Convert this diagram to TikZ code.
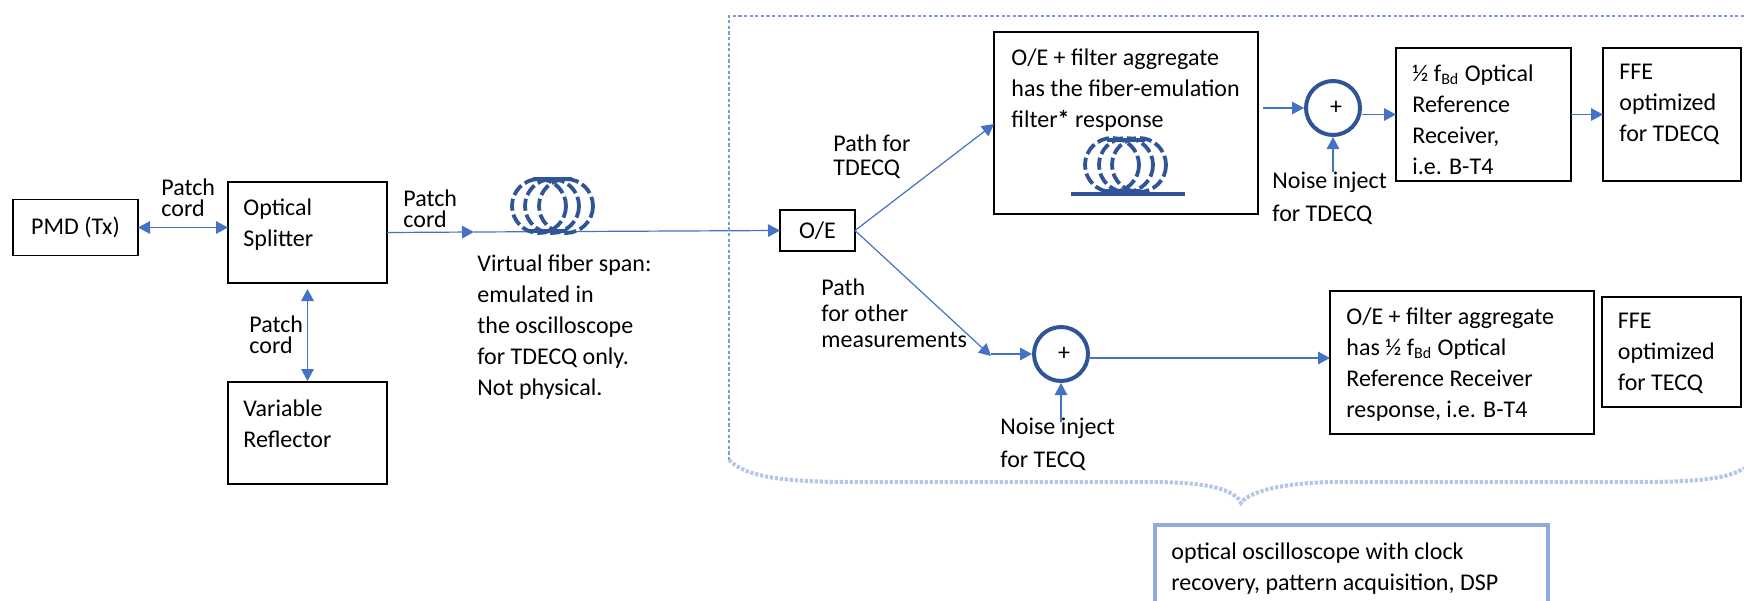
\documentclass[tikz,border=0pt]{standalone}
\usepackage{fontspec}
\setmainfont{Carlito}
\usetikzlibrary{arrows.meta}
\definecolor{linkblue}{HTML}{4472C4}
\definecolor{coilblue}{HTML}{2F5597}
\definecolor{paleblue}{HTML}{B4C7E7}
\definecolor{scopeblue}{HTML}{8FAADC}
\tikzset{
    box/.style={draw, line width=.75pt, inner sep=0pt, outer sep=0pt},
    txtbase/.style={anchor=north west, align=left, inner sep=0pt, execute at begin node=\strut},
    boxtxt/.style={txtbase, yshift=-3.5pt, font=\fontsize{12}{15.5}\selectfont},
    tight/.style={txtbase, font=\fontsize{12}{10.5}\selectfont},
    link/.style={-{Triangle[length=6pt,width=6.3pt]}, linkblue, line width=.6pt},
    biglink/.style={{Triangle[length=6pt,width=6.3pt]}-{Triangle[length=6pt,width=6.3pt]}, linkblue, line width=.6pt},
    sum/.style={circle, draw=coilblue, line width=2pt, minimum size=27pt, inner sep=0pt, font=\fontsize{12}{13}\selectfont},
    coil/.style={coilblue, line width=1.9pt, dash pattern=on 6pt off 2pt}
}
\begin{document}
\begin{tikzpicture}[x=.5pt, y=-.5pt]
    \clip (0,0) rectangle (1744,600);
    % left part
    \node[box, minimum width=62.5pt, minimum height=28pt, font=\fontsize{12}{13}\selectfont] (pmd) at (75.5,227.5) {PMD (Tx)};
    \node[box, minimum width=79.5pt, minimum height=50.5pt] (split) at (307.5,232.5) {};
    \node[box, minimum width=79.5pt, minimum height=51pt] (refl) at (307.5,433) {};
    \node[boxtxt] (splittxt) at (243,191) {Optical\\Splitter};
    \node[boxtxt] (refltxt) at (243,392) {Variable\\Reflector};
    \node[tight] (patcha) at (161,178) {Patch\\cord};
    \node[tight] (patchb) at (403,189) {Patch\\cord};
    \node[tight] (patchc) at (249,315) {Patch\\cord};
    \node[boxtxt] (virt) at (477,247) {Virtual fiber span:\\emulated in\\the oscilloscope\\for TDECQ only.\\Not physical.};
    \coordinate (fibstart) at (474,232);
    \node[box, minimum width=37.5pt, minimum height=20.5pt, font=\fontsize{12}{13}\selectfont] (oe) at (817.5,230.5) {O/E};
    \draw[biglink] (pmd.east) -- (pmd.east -| split.west);
    \draw[biglink] ([yshift=-3pt]split.south) -- ([yshift=.5pt]refl.north);
    \draw[link] (split.east) -- (fibstart);
    \draw[link] (fibstart) -- (oe.west);
    \foreach \cx in {539,552,566} {
        \draw[coil] (\cx,206) circle (27);
    }
    \draw[coilblue, line width=1.9pt] (533,179) -- (572,179);
    \draw[coilblue, line width=1.9pt] (528,231) -- (567,231);
    % upper path
    \node[box, minimum width=132pt, minimum height=91pt] (filt) at (1126,123) {};
    \node[boxtxt] (filttxt) at (1011,41) {O/E + filter aggregate\\has the fiber-emulation\\filter\textbf{*} response};
    \foreach \cx in {1112,1126,1139} {
        \draw[coil] (\cx,165) circle (27);
    }
    \draw[coilblue, line width=1.9pt] (1107,140) -- (1145,140);
    \draw[coilblue, line width=1.9pt] (1102,191) -- (1140,191);
    \draw[coilblue, line width=2pt] (1071,194) -- (1185,194);
    \node[sum] (suma) at (1333,108) {\raisebox{-2pt}{\hspace{3pt}+}};
    \node[box, minimum width=87.5pt, minimum height=66.5pt] (rxa) at (1483.5,114.5) {};
    \node[boxtxt] (rxatxt) at (1412,57) {½ f\textsubscript{Bd} Optical\\Reference\\Receiver,\\i.e. B-T4};
    \node[box, minimum width=69pt, minimum height=66.5pt] (ffea) at (1672,114.5) {};
    \node[boxtxt] (ffeatxt) at (1619,57) {FFE\\optimized\\for TDECQ};
    \node[boxtxt] (noisea) at (1272,165) {Noise inject\\[1pt]for TDECQ};
    \node[tight] (patha) at (833,134) {Path for\\[1.5pt]TDECQ};
    \coordinate (filtin) at (1263,108);
    \coordinate (noiseaend) at (1333,172);
    \draw[link] (oe.east) -- (filt.west |- 0,124);
    \draw[link] (filtin) -- (suma.west);
    \draw[link] (suma.east |- rxa.west) -- (rxa.west);
    \draw[link] (noiseaend) -- (suma.south);
    \draw[link] (rxa.east) -- (ffea.west);
    % lower path
    \node[sum] (sumb) at (1061,354) {\raisebox{-2pt}{\hspace{3pt}+}};
    \node[box, minimum width=132pt, minimum height=71.5pt] (rxb) at (1462,362.5) {};
    \node[boxtxt] (rxbtxt) at (1346,300) {O/E + filter aggregate\\has ½ f\textsubscript{Bd} Optical\\Reference Receiver\\response, i.e. B-T4};
    \node[box, minimum width=69.5pt, minimum height=55pt] (ffeb) at (1671.5,352) {};
    \node[boxtxt] (ffebtxt) at (1617.5,306) {FFE\\optimized\\for TECQ};
    \node[boxtxt] (noiseb) at (1000,411) {Noise inject\\[1pt]for TECQ};
    \node[tight] (pathb) at (821,278) {Path\\[2.5pt]for other\\[2.5pt]measurements};
    \coordinate (pathend) at (991,356);
    \coordinate (noisebend) at (1061,422);
    \draw[link] (oe.east) -- (pathend);
    \draw[link] (pathend |- sumb.west) -- (sumb.west);
    \draw[link] ([yshift=-2pt]sumb.east) -- ([yshift=-2pt]sumb.east -| rxb.west);
    \draw[link] (noisebend) -- (sumb.south);
    % oscilloscope outline
    \coordinate (framea) at (1744,16);
    \coordinate (frameb) at (729,16);
    \coordinate (framec) at (729,460);
    \draw[linkblue!70, line width=.6pt, dash pattern=on 1.6pt off 1.2pt] (framea) -- (frameb) -- (framec);
    \draw[paleblue, line width=2pt, dash pattern=on 1.6pt off .9pt] (framec)
        .. controls (745,476) and (780,482) .. (850,482) -- (1150,482)
        .. controls (1210,482) and (1235,490) .. (1241,503)
        .. controls (1250,490) and (1290,482) .. (1340,482) -- (1640,482)
        .. controls (1700,482) and (1730,478) .. (1744,468);
    \node[box, draw=scopeblue, line width=2pt, minimum width=196.5pt, minimum height=80pt] (scope) at (1351,605) {};
    \node[boxtxt] (scopetxt) at (1171,535) {optical oscilloscope with clock\\recovery, pattern acquisition, DSP};
\end{tikzpicture}
\end{document}
